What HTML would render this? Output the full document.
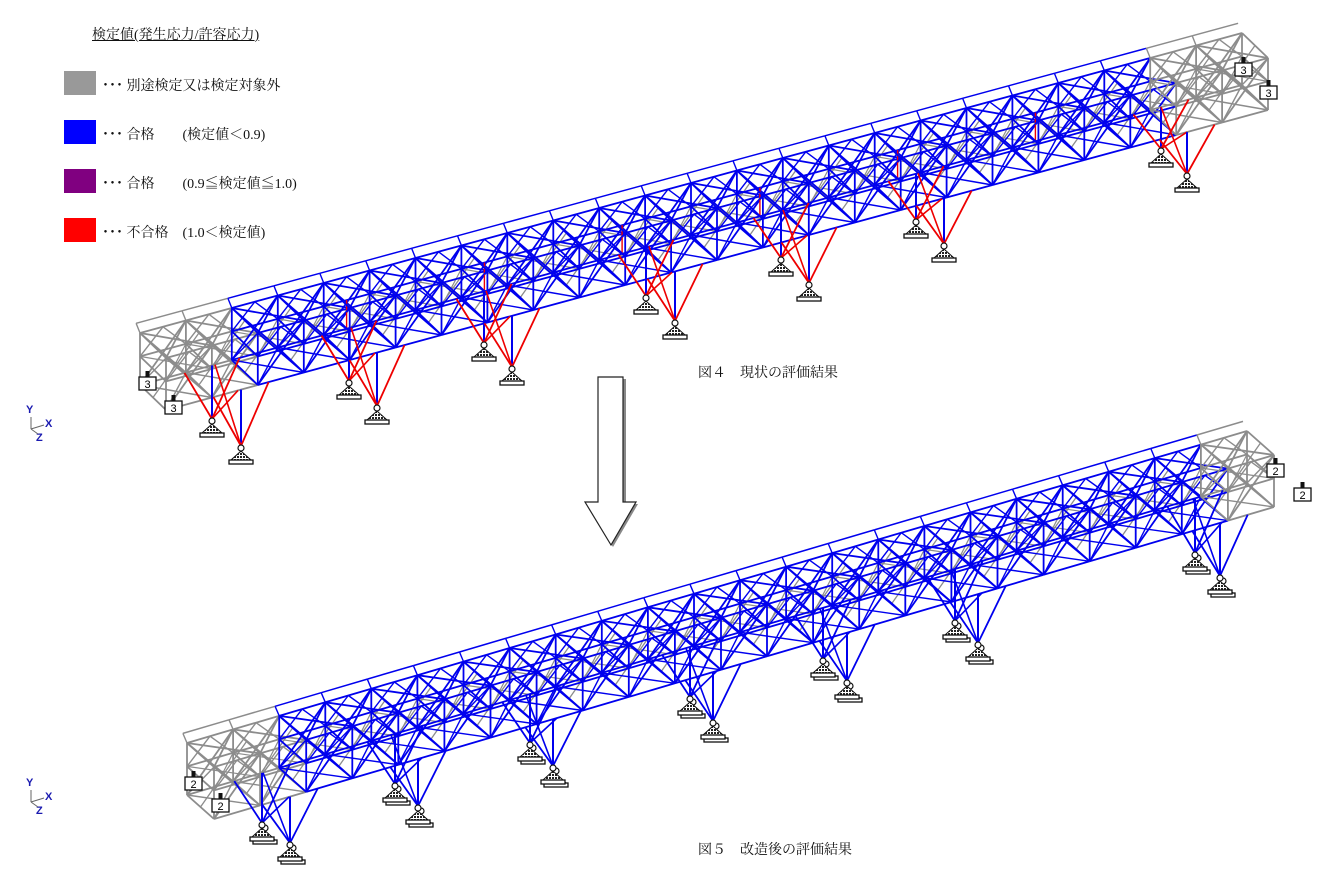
<!DOCTYPE html>
<html><head><meta charset="utf-8">
<style>
html,body{margin:0;padding:0;background:#fff;}
body{width:1344px;height:882px;overflow:hidden;position:relative;font-family:"Liberation Serif","Noto Serif CJK JP",serif;}
.t{position:absolute;font-size:14px;color:#111;white-space:nowrap;}
.sq{position:absolute;left:64px;width:32px;height:24px;}
.ax{position:absolute;font:bold 11px "Liberation Sans",sans-serif;color:#1a1ab0;}
</style></head><body>
<div class="t" style="left:92px;top:24px;text-decoration:underline;">検定値(発生応力/許容応力)</div>
<div class="sq" style="top:71px;background:#999;"></div>
<div class="sq" style="top:120px;background:#0000ff;"></div>
<div class="sq" style="top:169px;background:#800080;"></div>
<div class="sq" style="top:218px;background:#ff0000;"></div>
<div class="t" style="left:102px;top:75px;">･･･ 別途検定又は検定対象外</div>
<div class="t" style="left:102px;top:124px;">･･･ 合格　　(検定値＜0.9)</div>
<div class="t" style="left:102px;top:173px;">･･･ 合格　　(0.9≦検定値≦1.0)</div>
<div class="t" style="left:102px;top:222px;">･･･ 不合格　(1.0＜検定値)</div>
<div class="t" style="left:698px;top:362px;">図４　現状の評価結果</div>
<div class="t" style="left:698px;top:839px;">図５　改造後の評価結果</div>
<div class="ax" style="left:26px;top:404px;">Y</div><div class="ax" style="left:45px;top:418px;">X</div><div class="ax" style="left:36px;top:432px;">Z</div>
<div class="ax" style="left:26px;top:777px;">Y</div><div class="ax" style="left:45px;top:791px;">X</div><div class="ax" style="left:36px;top:805px;">Z</div>
<svg id="s" width="1344" height="882" style="position:absolute;left:0;top:0" xmlns="http://www.w3.org/2000/svg">
<defs><pattern id="h" width="3" height="3" patternUnits="userSpaceOnUse"><rect width="3" height="3" fill="#fff"/><rect width="2" height="2" fill="#222"/></pattern></defs>
<line x1="31" y1="417" x2="31" y2="429" stroke="#666"/><line x1="31" y1="429" x2="44" y2="425" stroke="#666"/><line x1="31" y1="429" x2="38" y2="434" stroke="#666"/>
<line x1="31" y1="790" x2="31" y2="802" stroke="#666"/><line x1="31" y1="802" x2="44" y2="798" stroke="#666"/><line x1="31" y1="802" x2="38" y2="807" stroke="#666"/>
<polygon points="601,379 626,379 626,504 638,504 613,547 587,504 601,504" fill="#888"/>
<polygon points="598,377 623,377 623,502 636,502 611,545 585,502 598,502" fill="#fff" stroke="#222" stroke-width="1.2"/>
<g id="g"></g>
</svg>
<script>
var g=document.getElementById('g'),out='';
function ln(a,b,c,w){out+='<line x1="'+a[0].toFixed(1)+'" y1="'+a[1].toFixed(1)+'" x2="'+b[0].toFixed(1)+'" y2="'+b[1].toFixed(1)+'" stroke="'+c+'" stroke-width="'+(w||1.8)+'"/>';}
var B='#0000ee',G='#8c8c8c',R='#ee0000';
function bridge(c){
 var N=c.N;
 function P(i,w,h){return [c.O[0]+c.L[0]*i/N+c.W[0]*w, c.O[1]+c.L[1]*i/N+c.W[1]*w-h];}
 function col(i){return (i<c.g0||i>=N-c.g1)?G:B;}
 var H1=c.H*0.55,H2=c.H;
 for(var i=0;i<N;i++){
  ln(P(i,0.5,0),P(i+1,0.5,H2),G,1.3);ln(P(i+1,0.5,0),P(i,0.5,H2),G,1.3);
  ln(P(i,0,H1),P(i+1,1,H1),G,1.2);ln(P(i,1,H1),P(i+1,0,H1),G,1.2);
 }
 for(var i=0;i<N;i++){
  var cc=col(i);
  [0,1].forEach(function(w){
   [0,H1,H2].forEach(function(h){ln(P(i,w,h),P(i+1,w,h),cc);});
   ln(P(i,w,0),P(i+1,w,H2),cc);ln(P(i+1,w,0),P(i,w,H2),cc);
   ln(P(i,w,H1),P(i+0.5,w,H2),cc,1.4);ln(P(i+1,w,H1),P(i+0.5,w,H2),cc,1.4);
  });
  ln(P(i,0,H2),P(i+1,1,H2),cc);ln(P(i,1,H2),P(i+1,0,H2),cc);
  ln(P(i,0,0),P(i+1,1,0),cc,1.4);ln(P(i,1,0),P(i+1,0,0),cc,1.4);
  ln(P(i,-0.15,H2+6),P(i+1,-0.15,H2+6),cc,1.5);
  ln(P(i,-0.15,H2+6),P(i,0,H2),cc,1.4);
  if(c.red&&i>=c.g0&&i<N-c.g1&&i%3==1){ln(P(i+0.5,0,0),P(i+0.5,0,H1),R,1.4);}
 }
 for(var i=0;i<=N;i++){
  var cc=col(Math.min(i,N-1));
  if(i==N)cc=G;
  [0,1].forEach(function(w){ln(P(i,w,0),P(i,w,H2),cc);});
  [0,H1,H2].forEach(function(h){ln(P(i,0,h),P(i,1,h),cc);});
  ln(P(i,0,0),P(i,1,H2),cc,1.4);
 }
 var dx=c.L[0]/N;
 c.piers.forEach(function(p,k){
  [[p[0],p[1],0],[p[2],p[3],1]].forEach(function(f){
   var i=(f[0]-c.O[0]-c.W[0]*f[2])/dx, ft=[f[0],f[1]-9];
   var dc=c.redk.indexOf(k)>=0?R:B;
   ln(ft,P(i,f[2],0),B,2);
   ln(ft,P(i-0.6,f[2],0),dc,1.8);ln(ft,P(i+0.6,f[2],0),dc,1.8);
   ln(ft,P(i,1-f[2],0),dc,1.6);
   var x=f[0],y=f[1];
   function sym(ox,oy){out+='<polygon points="'+(x+ox)+','+(y-4+oy)+' '+(x-10+ox)+','+(y+5+oy)+' '+(x+10+ox)+','+(y+5+oy)+'" fill="url(#h)" stroke="#111"/>'+
   '<rect x="'+(x-12+ox)+'" y="'+(y+5+oy)+'" width="24" height="4" fill="#fff" stroke="#111" stroke-width="1.3"/>'+
   '<circle cx="'+(x+ox)+'" cy="'+(y-7+oy)+'" r="3" fill="#fff" stroke="#111" stroke-width="1.2"/>';}
   if(c.dbl){sym(3,3);} sym(0,0);
  });
 });
 c.labels.forEach(function(l){
  out+='<rect x="'+(l[0]-1.5)+'" y="'+(l[1]-13)+'" width="4" height="6" fill="#111"/>'+
  '<rect x="'+(l[0]-8)+'" y="'+(l[1]-7)+'" width="17" height="13" fill="#fff" stroke="#111" stroke-width="1.3"/>'+
  '<text x="'+(l[0]+0.5)+'" y="'+(l[1]+4)+'" font-family="Liberation Sans,sans-serif" font-size="11" text-anchor="middle">'+l[2]+'</text>';
 });
}
bridge({O:[140,385],L:[1102,-300],W:[26,25],H:52,N:24,g0:1.5,g1:2,red:true,redk:[0,1,2,3,4,5,6],
 piers:[[212,428,241,455],[349,390,377,415],[484,352,512,376],[646,305,675,330],[781,267,809,292],[916,229,944,253],[1161,158,1187,183]],
 labels:[[147,384,'3'],[173,408,'3'],[1243,70,'3'],[1268,93,'3']]});
bridge({O:[187,795],L:[1060,-312],W:[27,24],H:52,N:23,g0:1.5,g1:1.5,red:false,redk:[],dbl:true,
 piers:[[262,832,290,852],[395,793,418,815],[530,752,553,775],[690,706,713,730],[823,668,847,690],[955,630,978,652],[1195,562,1220,585]],
 labels:[[193,784,'2'],[220,806,'2'],[1275,471,'2'],[1302,495,'2']]});
g.innerHTML=out;
</script>
</body></html>
